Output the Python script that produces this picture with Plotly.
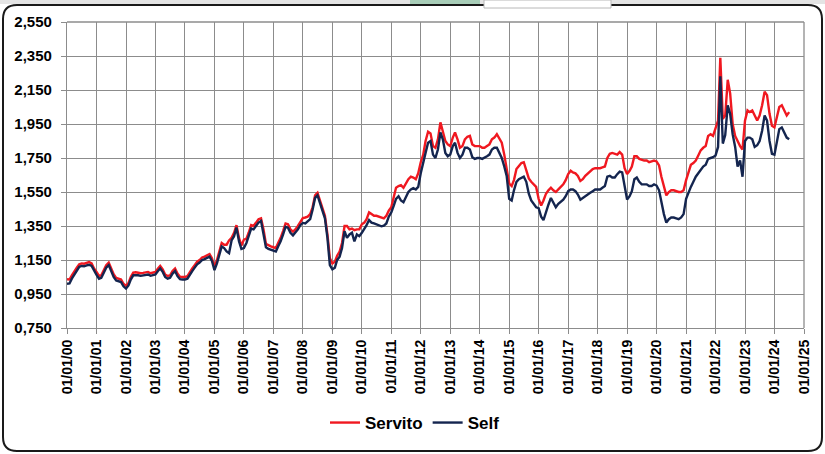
import pandas as pd
import plotly.graph_objects as go

# Monthly values (first of month), Jan 2000 .. Jul 2024, EUR/litre
servito = [
    1.037, 1.035, 1.06, 1.085, 1.105, 1.125, 1.13, 1.128, 1.132, 1.138, 1.13, 1.10,   # 2000
    1.08, 1.056, 1.06, 1.09, 1.12, 1.135, 1.10, 1.066, 1.045, 1.04, 1.035, 1.01,      # 2001
    0.998, 1.015, 1.05, 1.076, 1.078, 1.075, 1.072, 1.074, 1.078, 1.08, 1.072, 1.075, # 2002
    1.08, 1.10, 1.115, 1.095, 1.065, 1.056, 1.06, 1.085, 1.10, 1.07, 1.052, 1.05,     # 2003
    1.05, 1.055, 1.08, 1.10, 1.12, 1.14, 1.15, 1.165, 1.17, 1.18, 1.185, 1.16,        # 2004
    1.11, 1.15, 1.20, 1.25, 1.24, 1.24, 1.265, 1.28, 1.31, 1.355, 1.28, 1.235,        # 2005
    1.27, 1.275, 1.31, 1.355, 1.35, 1.37, 1.39, 1.395, 1.33, 1.245, 1.235, 1.23,      # 2006
    1.225, 1.22, 1.25, 1.28, 1.32, 1.365, 1.36, 1.33, 1.317, 1.33, 1.35, 1.375,       # 2007
    1.397, 1.40, 1.405, 1.42, 1.46, 1.53, 1.545, 1.50, 1.45, 1.41, 1.30, 1.16,        # 2008
    1.13, 1.14, 1.175, 1.20, 1.25, 1.35, 1.35, 1.33, 1.335, 1.325, 1.33, 1.33,        # 2009
    1.36, 1.37, 1.39, 1.43, 1.42, 1.41, 1.41, 1.405, 1.40, 1.395, 1.41, 1.44,         # 2010
    1.46, 1.52, 1.575, 1.585, 1.59, 1.575, 1.60, 1.625, 1.64, 1.635, 1.625, 1.66,     # 2011
    1.725, 1.77, 1.85, 1.905, 1.895, 1.82, 1.81, 1.86, 1.96, 1.91, 1.85, 1.83,        # 2012
    1.82, 1.87, 1.90, 1.86, 1.81, 1.82, 1.86, 1.875, 1.88, 1.83, 1.82, 1.82,          # 2013
    1.82, 1.81, 1.81, 1.82, 1.83, 1.86, 1.87, 1.89, 1.865, 1.84, 1.77, 1.695,         # 2014
    1.60, 1.585, 1.62, 1.685, 1.705, 1.72, 1.725, 1.675, 1.63, 1.61, 1.596, 1.58,     # 2015
    1.51, 1.47, 1.50, 1.54, 1.56, 1.575, 1.56, 1.55, 1.565, 1.58, 1.595, 1.62,        # 2016
    1.655, 1.675, 1.665, 1.66, 1.645, 1.615, 1.625, 1.645, 1.66, 1.675, 1.685, 1.69,  # 2017
    1.69, 1.69, 1.695, 1.70, 1.75, 1.775, 1.78, 1.775, 1.77, 1.785, 1.77, 1.69,       # 2018
    1.655, 1.675, 1.70, 1.76, 1.76, 1.745, 1.74, 1.735, 1.735, 1.725, 1.73, 1.735,    # 2019
    1.73, 1.706, 1.64, 1.58, 1.53, 1.55, 1.56, 1.56, 1.555, 1.55, 1.55, 1.56,         # 2020
    1.62, 1.67, 1.71, 1.72, 1.735, 1.765, 1.795, 1.81, 1.82, 1.88, 1.89, 1.88,        # 2021
    1.92, 1.97, 2.34, 1.98, 2.00, 2.21, 2.13, 1.95, 1.88, 1.85, 1.82, 1.80,           # 2022
    1.97, 2.03, 2.02, 2.03, 2.00, 1.97, 2.00, 2.06, 2.14, 2.12, 2.01, 1.94,           # 2023
    1.93, 2.00, 2.05, 2.06, 2.03, 2.00, 2.02,                                         # 2024
]

self_serv = [
    1.01, 1.012, 1.04, 1.065, 1.09, 1.11, 1.115, 1.113, 1.118, 1.122, 1.115, 1.085,   # 2000
    1.063, 1.04, 1.045, 1.075, 1.105, 1.12, 1.085, 1.05, 1.03, 1.025, 1.02, 0.995,    # 2001
    0.982, 1.0, 1.035, 1.06, 1.062, 1.06, 1.057, 1.06, 1.063, 1.065, 1.057, 1.06,     # 2002
    1.065, 1.085, 1.10, 1.08, 1.05, 1.04, 1.045, 1.07, 1.085, 1.055, 1.037, 1.035,    # 2003
    1.035, 1.04, 1.065, 1.085, 1.105, 1.125, 1.135, 1.15, 1.155, 1.165, 1.17, 1.145,  # 2004
    1.09, 1.13, 1.175, 1.23, 1.22, 1.20, 1.19, 1.265, 1.29, 1.34, 1.26, 1.215,        # 2005
    1.22, 1.25, 1.29, 1.335, 1.33, 1.35, 1.37, 1.38, 1.31, 1.225, 1.215, 1.21,        # 2006
    1.205, 1.20, 1.23, 1.26, 1.30, 1.345, 1.34, 1.31, 1.295, 1.31, 1.33, 1.355,       # 2007
    1.368, 1.365, 1.375, 1.39, 1.445, 1.515, 1.53, 1.485, 1.43, 1.395, 1.28, 1.12,    # 2008
    1.095, 1.105, 1.15, 1.17, 1.22, 1.32, 1.28, 1.30, 1.31, 1.26, 1.30, 1.29,         # 2009
    1.31, 1.33, 1.355, 1.385, 1.37, 1.365, 1.36, 1.355, 1.348, 1.352, 1.365, 1.405,   # 2010
    1.43, 1.47, 1.51, 1.525, 1.50, 1.49, 1.525, 1.55, 1.565, 1.573, 1.565, 1.58,      # 2011
    1.66, 1.73, 1.78, 1.84, 1.85, 1.77, 1.75, 1.80, 1.90, 1.86, 1.78, 1.76,           # 2012
    1.77, 1.82, 1.84, 1.78, 1.75, 1.77, 1.81, 1.81, 1.80, 1.755, 1.745, 1.75,         # 2013
    1.75, 1.745, 1.75, 1.76, 1.77, 1.80, 1.81, 1.81, 1.78, 1.75, 1.70, 1.645,         # 2014
    1.51, 1.50, 1.56, 1.61, 1.625, 1.635, 1.64, 1.61, 1.54, 1.50, 1.48, 1.46,         # 2015
    1.455, 1.405, 1.385, 1.435, 1.475, 1.515, 1.49, 1.46, 1.48, 1.49, 1.505, 1.525,   # 2016
    1.555, 1.565, 1.565, 1.555, 1.535, 1.505, 1.515, 1.53, 1.535, 1.545, 1.555, 1.565,# 2017
    1.565, 1.565, 1.575, 1.585, 1.64, 1.645, 1.635, 1.635, 1.655, 1.67, 1.665, 1.585, # 2018
    1.505, 1.525, 1.555, 1.625, 1.635, 1.61, 1.595, 1.595, 1.595, 1.585, 1.585, 1.595,# 2019
    1.588, 1.56, 1.48, 1.42, 1.37, 1.39, 1.40, 1.40, 1.395, 1.39, 1.40, 1.42,         # 2020
    1.51, 1.55, 1.58, 1.61, 1.64, 1.66, 1.68, 1.70, 1.71, 1.745, 1.75, 1.755,         # 2021
    1.765, 1.815, 2.23, 1.835, 1.885, 2.06, 2.01, 1.89, 1.815, 1.70, 1.735, 1.64,     # 2022
    1.85, 1.87, 1.87, 1.86, 1.815, 1.825, 1.85, 1.91, 2.00, 1.97, 1.85, 1.775,        # 2023
    1.77, 1.86, 1.92, 1.93, 1.90, 1.87, 1.86,                                         # 2024
]

dates = pd.date_range("2000-01-01", periods=len(servito), freq="MS")
tick_dates = pd.date_range("2000-01-01", "2025-01-01", freq="YS")
tick_text = [d.strftime("%d/%m/%y") for d in tick_dates]

W_PX, H_PX = 825, 454
L, R, T, B = 67, 21, 22, 126
PW, PH = W_PX - L - R, H_PX - T - B

def px(x):
    return (x - L) / PW

def py(y):
    return (T + PH - y) / PH

RED = "#f01820"
NAVY = "#14254f"
GRID = "#8c8c8c"
FONT = "Liberation Sans, Arial, sans-serif"

fig = go.Figure()
fig.add_trace(go.Scatter(x=dates, y=servito, mode="lines", name="Servito",
                         line=dict(color=RED, width=2.4)))
fig.add_trace(go.Scatter(x=dates, y=self_serv, mode="lines", name="Self",
                         line=dict(color=NAVY, width=2.4)))

# rounded chart border
x0, x1, y0, y1, r = 3, 822, 5, 451, 14
path = (f"M {px(x0 + r)},{py(y0)} L {px(x1 - r)},{py(y0)} "
        f"Q {px(x1)},{py(y0)} {px(x1)},{py(y0 + r)} "
        f"L {px(x1)},{py(y1 - r)} Q {px(x1)},{py(y1)} {px(x1 - r)},{py(y1)} "
        f"L {px(x0 + r)},{py(y1)} Q {px(x0)},{py(y1)} {px(x0)},{py(y1 - r)} "
        f"L {px(x0)},{py(y0 + r)} Q {px(x0)},{py(y0)} {px(x0 + r)},{py(y0)} Z")

shapes = [
    dict(type="rect", xref="paper", yref="paper", x0=px(0), x1=px(825), y0=py(4), y1=py(0),
         fillcolor="#e4e4e4", line=dict(width=0), layer="below"),
    dict(type="rect", xref="paper", yref="paper", x0=px(410), x1=px(480), y0=py(5), y1=py(0),
         fillcolor="#a8cdb8", line=dict(width=0), layer="below"),
    dict(type="rect", xref="paper", yref="paper", x0=px(484), x1=px(611), y0=py(8), y1=py(0),
         fillcolor="white", line=dict(color="#b8b8b8", width=1), layer="above"),
    dict(type="path", xref="paper", yref="paper", path=path,
         line=dict(color="#1a1a1a", width=2), layer="below"),
    dict(type="line", xref="paper", yref="paper", x0=1, x1=1, y0=0, y1=1,
         line=dict(color=GRID, width=1.3), layer="below"),
    dict(type="line", xref="paper", yref="paper", x0=0, x1=1, y0=1, y1=1,
         line=dict(color=GRID, width=1.3), layer="below"),
]

fig.update_layout(
    width=W_PX, height=H_PX,
    margin=dict(l=L, r=R, t=T, b=B, pad=0, autoexpand=False),
    paper_bgcolor="white", plot_bgcolor="white",
    separators=",.",
    font=dict(family=FONT, color="black", size=14),
    showlegend=True,
    legend=dict(orientation="h", x=px(415), xanchor="center", y=py(423), yanchor="middle",
                font=dict(family=FONT, size=17, color="black", weight="bold"),
                itemwidth=30, bgcolor="rgba(0,0,0,0)", tracegroupgap=0),
    shapes=shapes,
    xaxis=dict(type="date", range=[tick_dates[0], tick_dates[-1]],
               tickmode="array", tickvals=tick_dates, ticktext=tick_text,
               tickangle=-90, showgrid=True, gridcolor=GRID, gridwidth=1.3,
               showline=True, linecolor=GRID, linewidth=1.3,
               ticks="outside", ticklen=5, tickcolor=GRID, tickwidth=1.3,
               tickfont=dict(family=FONT, size=14, color="black", weight="bold"),
               zeroline=False, fixedrange=True),
    yaxis=dict(range=[0.75, 2.55], tick0=0.75, dtick=0.2, tickformat=".3f",
               showgrid=True, gridcolor=GRID, gridwidth=1.3,
               showline=True, linecolor=GRID, linewidth=1.3,
               ticks="outside", ticklen=5, tickcolor=GRID, tickwidth=1.3,
               ticklabelstandoff=6,
               tickfont=dict(family=FONT, size=15, color="black", weight="bold"),
               zeroline=False, fixedrange=True),
)

fig.write_html("out.html",
               config={"displayModeBar": False},
               post_script="document.body.style.margin='0';document.body.style.padding='0';")
